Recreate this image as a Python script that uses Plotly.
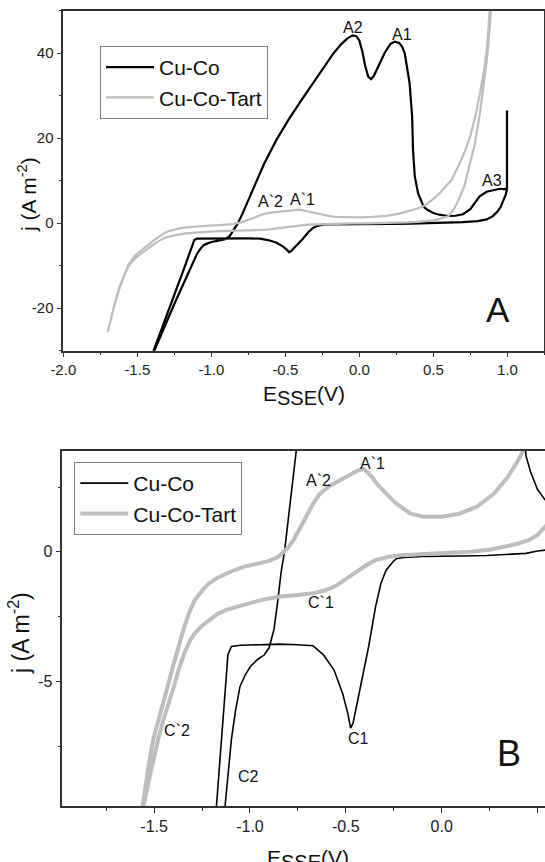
import plotly.graph_objects as go

# ---------------- data ----------------
# Cu-Co cyclic voltammogram: E (V vs SSE), j (A m^-2)
cuco_E = [0.998, 0.998, 0.99, 0.975, 0.955, 0.93, 0.9, 0.86, 0.8, 0.7, 0.6, 0.5, 0.44, 0.35,
          0.236, 0.1, 0.0, -0.1, -0.2, -0.236, -0.254, -0.272, -0.29, -0.317, -0.345, -0.381,
          -0.417, -0.444, -0.462, -0.475, -0.49, -0.517, -0.562, -0.617, -0.671, -0.75, -0.85,
          -0.95, -1.05, -1.097, -1.115, -1.175, -1.39, -1.42,
          -1.40, -1.385, -1.25, -1.13, -1.097, -1.075, -1.052, -1.025, -0.998, -0.96, -0.925,
          -0.9, -0.875, -0.855, -0.838, -0.82, -0.79, -0.76, -0.7, -0.643, -0.56,
          -0.479, -0.4, -0.315, -0.24, -0.174, -0.12, -0.08, -0.045, -0.02, 0.0, 0.02, 0.04,
          0.06, 0.08, 0.1, 0.13, 0.17, 0.21, 0.24, 0.27, 0.29, 0.307, 0.325, 0.34, 0.357,
          0.363, 0.375, 0.397, 0.425, 0.44, 0.463, 0.5, 0.54, 0.6, 0.65, 0.7, 0.75, 0.813,
          0.86, 0.903, 0.95, 0.982, 0.998]
cuco_j = [26.5, 8.0, 6.8, 5.3, 3.8, 2.6, 1.6, 0.9, 0.5, 0.25, 0.12, 0.03, -0.06, -0.1,
          -0.14, -0.16, -0.17, -0.18, -0.22, -0.26, -0.38, -0.55, -0.71, -1.22, -2.12, -3.65,
          -4.94, -5.83, -6.6, -6.8, -6.22, -5.45, -4.55, -3.97, -3.62, -3.58, -3.56,
          -3.58, -3.6, -3.65, -3.97, -9.81, -30.0, -33.0,
          -31.0, -30.0, -19.0, -9.81, -7.24, -6.1, -5.19, -4.75, -4.42, -4.15, -3.97,
          -3.7, -3.0, -1.9, -0.8, 0.0, 2.2, 4.6, 9.4, 14.0, 19.6,
          24.3, 28.5, 32.9, 36.8, 40.0, 42.2, 43.5, 44.2, 44.0, 43.0, 40.5, 37.0,
          34.5, 33.9, 34.8, 37.0, 40.0, 42.2, 42.7, 42.4, 41.5, 40.0, 36.5, 32.9, 25.1,
          17.2, 11.0, 7.06, 4.7, 3.7, 3.1, 2.4, 2.0, 1.7, 1.75, 2.1, 3.3, 6.3,
          7.4, 7.8, 8.1, 8.0, 8.0]

# Cu-Co-Tart cyclic voltammogram
tart_E = [-1.7, -1.68, -1.65, -1.62, -1.59, -1.56, -1.53, -1.505, -1.478, -1.451, -1.424,
          -1.397, -1.37, -1.342, -1.315, -1.288, -1.25, -1.215, -1.17, -1.124, -1.08, -1.034,
          -0.99, -0.943, -0.9, -0.852, -0.798, -0.77, -0.744, -0.707, -0.671, -0.635, -0.58,
          -0.508, -0.46, -0.435, -0.408, -0.385, -0.363, -0.335, -0.308, -0.27, -0.236, -0.2,
          -0.163, -0.091, 0.0, 0.091, 0.181, 0.272, 0.345, 0.399, 0.426, 0.46, 0.507, 0.543,
          0.58, 0.624, 0.67, 0.718, 0.75, 0.789, 0.82, 0.847, 0.865, 0.883, 0.9,
          0.893, 0.875, 0.859, 0.835, 0.812, 0.78, 0.742, 0.71, 0.671, 0.64, 0.6, 0.57, 0.54,
          0.5, 0.454, 0.39, 0.327, 0.25, 0.145, 0.05, -0.036, -0.13, -0.218, -0.28, -0.345,
          -0.39, -0.435, -0.47, -0.508, -0.545, -0.58, -0.625, -0.671, -0.762, -0.852, -0.943,
          -1.034, -1.124, -1.17, -1.215, -1.25, -1.288, -1.315, -1.342, -1.37, -1.397, -1.424,
          -1.451, -1.478, -1.505, -1.53, -1.555, -1.59, -1.62, -1.65, -1.675, -1.7]
tart_j = [-25.6, -22.5, -18.5, -15.0, -12.2, -9.81, -8.3, -7.24, -6.5, -5.83, -5.05,
          -4.29, -3.55, -2.88, -2.3, -1.86, -1.5, -1.22, -1.0, -0.83, -0.7, -0.58,
          -0.5, -0.45, -0.35, -0.19, 0.19, 0.5, 0.83, 1.35, 1.86, 2.24, 2.56,
          2.88, 3.05, 3.14, 3.2, 3.05, 2.88, 2.6, 2.37, 2.1, 1.86, 1.65,
          1.47, 1.35, 1.35, 1.47, 1.73, 2.24, 2.88, 3.53, 3.91, 4.6, 5.9, 7.06,
          8.5, 10.2, 13.5, 17.3, 20.5, 25.9, 31.5, 36.9, 42.0, 50.2, 60.0,
          52.0, 43.0, 37.6, 30.5, 25.1, 18.5, 13.3, 8.8, 5.5, 3.3, 1.6, 1.25, 0.96,
          0.65, 0.45, 0.3, 0.19, 0.08, 0.0, -0.03, -0.06, -0.09, -0.13, -0.2, -0.32,
          -0.5, -0.71, -0.9, -1.09, -1.28, -1.41, -1.52, -1.6, -1.67, -1.73, -1.86,
          -2.05, -2.24, -2.4, -2.63, -2.85, -3.14, -3.45, -3.91, -4.5, -5.19, -5.8,
          -6.47, -7.2, -8.01, -8.9, -9.81, -12.5, -15.3, -18.8, -22.0, -25.6]

series_names = ["Cu-Co", "Cu-Co-Tart"]

# tick labels
a_xticks = [-2.0, -1.5, -1.0, -0.5, 0.0, 0.5, 1.0]
a_xlabels = ["-2.0", "-1.5", "-1.0", "-0.5", "0.0", "0.5", "1.0"]
a_yticks = [-20, 0, 20, 40]
a_ylabels = ["-20", "0", "20", "40"]
b_xticks = [-1.5, -1.0, -0.5, 0.0, 0.5]
b_xlabels = ["-1.5", "-1.0", "-0.5", "0.0", "0.5"]
b_yticks = [-5, 0]
b_ylabels = ["-5", "0"]

# peak labels: (text, E, j)
a_peaks = [("A2", -0.04, 46.1), ("A1", 0.287, 44.5), ("A3", 0.898, 9.96),
           ("A`2", -0.599, 5.08), ("A`1", -0.385, 5.48)]
b_peaks = [("A`1", -0.36, 3.42), ("A`2", -0.64, 2.75), ("C`1", -0.632, -1.94),
           ("C`2", -1.38, -6.88), ("C1", -0.432, -7.19), ("C2", -1.006, -8.67)]

# ---------------- figure ----------------
W, H = 545, 862
FONT = "Arial, 'Liberation Sans', sans-serif"
AX = "#333333"
BLACK = "#000000"
GREY = "#bdbdbd"
TXT = "#111111"


def px_x(p):
    return p / W


def px_y(p):
    return 1 - p / H


fig = go.Figure()
# panel A
fig.add_trace(go.Scatter(x=cuco_E, y=cuco_j, mode="lines", name=series_names[0],
                         line=dict(color=BLACK, width=2.2), xaxis="x", yaxis="y",
                         legend="legend"))
fig.add_trace(go.Scatter(x=tart_E, y=tart_j, mode="lines", name=series_names[1],
                         line=dict(color=GREY, width=2.2), xaxis="x", yaxis="y",
                         legend="legend"))
# panel B
fig.add_trace(go.Scatter(x=cuco_E, y=cuco_j, mode="lines", name=series_names[0],
                         line=dict(color=BLACK, width=1.6), xaxis="x2", yaxis="y2",
                         legend="legend2"))
fig.add_trace(go.Scatter(x=tart_E, y=tart_j, mode="lines", name=series_names[1],
                         line=dict(color=GREY, width=4), xaxis="x2", yaxis="y2",
                         legend="legend2"))


def axis_style(size):
    return dict(showline=True, linecolor=AX, linewidth=1.5, ticks="outside", ticklen=5,
                tickwidth=1.2, tickcolor=AX, showgrid=False, zeroline=False,
                tickfont=dict(family=FONT, size=size, color="#222222"))


fig.update_layout(
    width=W, height=H, template="none",
    margin=dict(l=0, r=0, t=0, b=0),
    paper_bgcolor="white", plot_bgcolor="white",
    font=dict(family=FONT, color=TXT),
    xaxis=dict(domain=[px_x(63.3), px_x(544.3)], range=[-2.0, 1.25], anchor="y",
               tickmode="array", tickvals=a_xticks, ticktext=a_xlabels, mirror=True,
               minor=dict(tickmode="linear", tick0=-2.0, dtick=0.25, ticks="outside",
                          ticklen=3, tickcolor=AX),
               **axis_style(15)),
    yaxis=dict(domain=[px_y(350.7), px_y(10.7)], range=[-30, 50], anchor="x",
               tickmode="array", tickvals=a_yticks, ticktext=a_ylabels, mirror=True,
               minor=dict(tickmode="linear", tick0=0, dtick=10, ticks="outside",
                          ticklen=3, tickcolor=AX),
               **axis_style(15)),
    xaxis2=dict(domain=[px_x(62.3), 1.0], range=[-1.979, 0.539], anchor="y2",
                tickmode="array", tickvals=b_xticks, ticktext=b_xlabels, mirror=True,
                minor=dict(tickmode="linear", tick0=0, dtick=0.25, ticks="outside",
                           ticklen=3, tickcolor=AX),
                **axis_style(16)),
    yaxis2=dict(domain=[px_y(806), px_y(450.7)], range=[-9.8, 3.9], anchor="x2",
                tickmode="array", tickvals=b_yticks, ticktext=b_ylabels, mirror=False,
                minor=dict(tickmode="linear", tick0=0, dtick=2.5, ticks="outside",
                           ticklen=3, tickcolor=AX),
                **axis_style(16)),
    legend=dict(x=px_x(100), y=px_y(46), xanchor="left", yanchor="top",
                bordercolor="#808080", borderwidth=1, bgcolor="white",
                font=dict(family=FONT, size=21, color=TXT),
                tracegroupgap=0, itemwidth=48),
    legend2=dict(x=px_x(74.3), y=px_y(462), xanchor="left", yanchor="top",
                 bordercolor="#808080", borderwidth=1, bgcolor="white",
                 font=dict(family=FONT, size=21, color=TXT),
                 tracegroupgap=0, itemwidth=48),
    showlegend=True,
)

ann = []
for t, x, y in a_peaks:
    ann.append(dict(text=t, x=x, y=y, xref="x", yref="y", showarrow=False,
                    font=dict(family=FONT, size=16, color=TXT)))
for t, x, y in b_peaks:
    ann.append(dict(text=t, x=x, y=y, xref="x2", yref="y2", showarrow=False,
                    font=dict(family=FONT, size=16, color=TXT)))
ann.append(dict(text="A", x=0.935, y=-20.2, xref="x", yref="y", showarrow=False,
                font=dict(family=FONT, size=35, color=TXT)))
ann.append(dict(text="B", x=0.351, y=-7.79, xref="x2", yref="y2", showarrow=False,
                font=dict(family=FONT, size=36, color=TXT)))
# axis titles
xtitle = "E<sub><span style='font-size:20px'>SSE</span></sub>(V)"
ytitle = "j (A m<sup>-2</sup>)"
ann.append(dict(text=xtitle, x=px_x(304), y=px_y(380), xref="paper",
                yref="paper", xanchor="center", yanchor="top", showarrow=False,
                font=dict(family=FONT, size=21, color=TXT)))
ann.append(dict(text=ytitle, x=px_x(27), y=px_y(195), xref="paper",
                yref="paper", xanchor="center", yanchor="middle", textangle=-90,
                showarrow=False, font=dict(family=FONT, size=21, color=TXT)))
ann.append(dict(text=xtitle, x=px_x(308), y=px_y(844), xref="paper",
                yref="paper", xanchor="center", yanchor="top", showarrow=False,
                font=dict(family=FONT, size=21, color=TXT)))
ann.append(dict(text=ytitle, x=px_x(19), y=px_y(633), xref="paper",
                yref="paper", xanchor="center", yanchor="middle", textangle=-90,
                showarrow=False, font=dict(family=FONT, size=23, color=TXT)))
fig.update_layout(annotations=ann)

fig.write_html("out.html")
